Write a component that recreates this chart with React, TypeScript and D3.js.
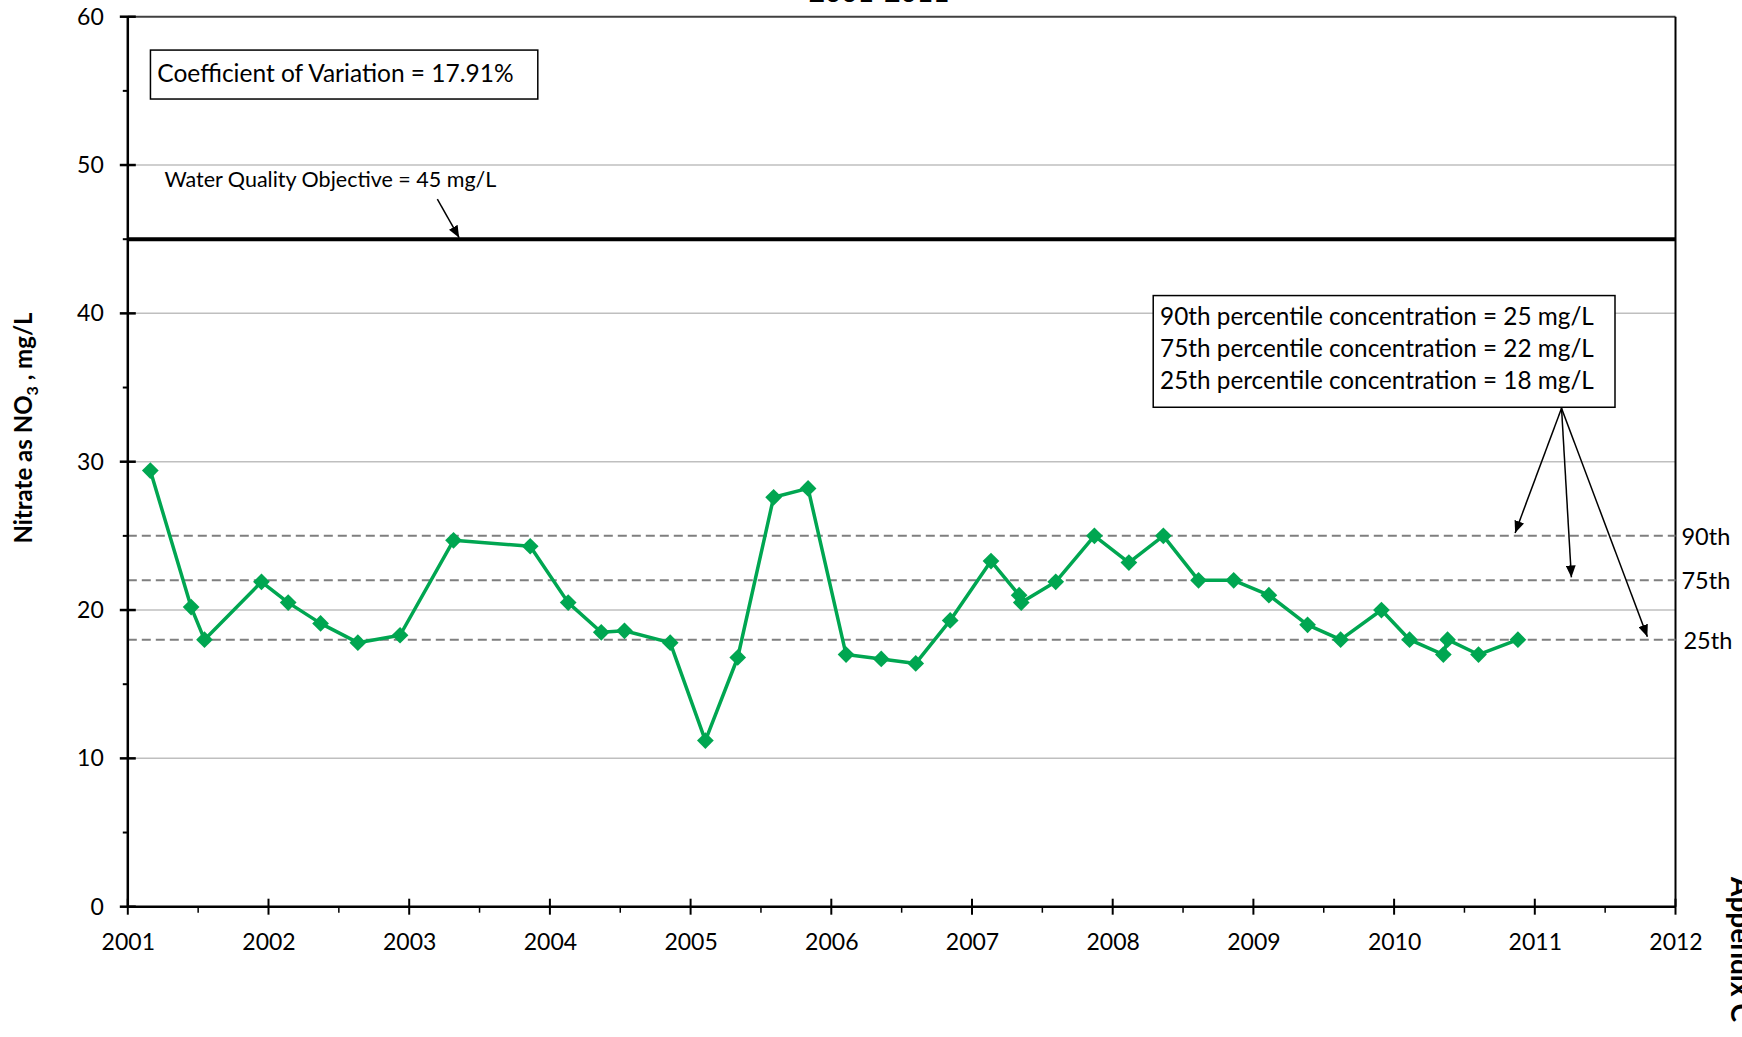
import React, { useEffect, useRef } from 'react';
import * as d3 from 'd3';

// sample dates (decimal years) and nitrate values
const sampleYears = [
  2001.16, 2001.45, 2001.545, 2001.95, 2002.14, 2002.37, 2002.635, 2002.935,
  2003.315, 2003.86, 2004.13, 2004.365, 2004.53, 2004.855, 2005.105, 2005.335,
  2005.59, 2005.835, 2006.105, 2006.355, 2006.6, 2006.845, 2007.135, 2007.335,
  2007.35, 2007.595, 2007.87, 2008.115, 2008.36, 2008.61, 2008.86, 2009.11,
  2009.385, 2009.62, 2009.91, 2010.11, 2010.35, 2010.38, 2010.6, 2010.88,
];
const nitrate = [
  29.4, 20.2, 18.0, 21.9, 20.5, 19.1, 17.8, 18.3,
  24.7, 24.3, 20.5, 18.5, 18.6, 17.8, 11.2, 16.8,
  27.6, 28.2, 17.0, 16.7, 16.4, 19.3, 23.3, 21.0,
  20.5, 21.9, 25.0, 23.2, 25.0, 22.0, 22.0, 21.0,
  19.0, 18.0, 20.0, 18.0, 17.0, 18.0, 17.0, 18.0,
];

const yTicks = [0, 10, 20, 30, 40, 50, 60];
const xTicks = d3.range(2001, 2013);
const percentileLevels = [25, 22, 18];
const percentileNames = ['90th', '75th', '25th'];
const percentileText = [
  '90th percentile concentration = 25 mg/L',
  '75th percentile concentration = 22 mg/L',
  '25th percentile concentration = 18 mg/L',
];
// where each percentile arrow ends (year, value)
const percentileArrowX = [2010.86, 2011.26, 2011.8];
const objective = 45;
const cvText = 'Coefficient of Variation = 17.91%';
const objectiveText = 'Water Quality Objective = 45 mg/L';

const FONT = 'Lato, "Open Sans", sans-serif';
const GREEN = '#00a651';

export default function App() {
  const svgRef = useRef<SVGSVGElement>(null);

  useEffect(() => {
    document.body.style.margin = '0';
    if (!svgRef.current) return;
    const svg = d3.select(svgRef.current);
    svg.selectAll('*').remove();

    const W = 1742;
    const H = 1037;
    const margin = { top: 16.7, right: 66.5, bottom: 130.3, left: 127.8 };
    const width = W - margin.left - margin.right;
    const height = H - margin.top - margin.bottom;

    const x = d3.scaleLinear().domain([2001, 2012]).range([0, width]);
    const y = d3.scaleLinear().domain([0, 60]).range([height, 0]);

    const defs = svg.append('defs');
    defs.append('marker')
      .attr('id', 'arrow')
      .attr('viewBox', '0 0 12 10')
      .attr('refX', 12)
      .attr('refY', 5)
      .attr('markerWidth', 12)
      .attr('markerHeight', 10)
      .attr('markerUnits', 'userSpaceOnUse')
      .attr('orient', 'auto')
      .append('path')
      .attr('d', 'M0,0 L12,5 L0,10 Z')
      .attr('fill', '#000');

    // title, cut off at the top of the page
    svg.append('text')
      .attr('x', 879)
      .attr('y', 2)
      .attr('text-anchor', 'middle')
      .attr('font-family', FONT)
      .attr('font-weight', 'bold')
      .attr('font-size', 28)
      .text('2001-2011');

    const g = svg.append('g')
      .attr('transform', `translate(${margin.left},${margin.top})`);

    // horizontal gridlines
    g.selectAll('.grid')
      .data(yTicks.filter(t => t > 0 && t < 60))
      .join('line')
      .attr('x1', 0)
      .attr('x2', width)
      .attr('y1', d => y(d))
      .attr('y2', d => y(d))
      .attr('stroke', '#bfbfbf')
      .attr('stroke-width', 1.5);

    // top + right border
    g.append('line')
      .attr('x1', 0).attr('x2', width)
      .attr('y1', y(60)).attr('y2', y(60))
      .attr('stroke', '#404040')
      .attr('stroke-width', 2);
    g.append('line')
      .attr('x1', width).attr('x2', width)
      .attr('y1', y(60)).attr('y2', y(0))
      .attr('stroke', '#000')
      .attr('stroke-width', 2);

    // percentile dashed lines
    g.selectAll('.pct')
      .data(percentileLevels)
      .join('line')
      .attr('x1', 0)
      .attr('x2', width)
      .attr('y1', d => y(d))
      .attr('y2', d => y(d))
      .attr('stroke', '#7f7f7f')
      .attr('stroke-width', 2)
      .attr('stroke-dasharray', '9,5');

    g.selectAll('.pctLabel')
      .data(percentileLevels)
      .join('text')
      .attr('x', (d, i) => width + 6 + (i === 2 ? 2 : 0))
      .attr('y', d => y(d) + 9)
      .attr('font-family', FONT)
      .attr('font-size', 23.5)
      .text((d, i) => percentileNames[i]);

    // water quality objective
    g.append('line')
      .attr('x1', 0).attr('x2', width)
      .attr('y1', y(objective)).attr('y2', y(objective))
      .attr('stroke', '#000')
      .attr('stroke-width', 4);

    // y axis
    const yAxis = g.append('g')
      .call(d3.axisLeft(y).tickValues(yTicks).tickSize(0).tickPadding(24).tickFormat(d3.format('d')));
    yAxis.select('.domain').remove();
    yAxis.selectAll('text')
      .attr('font-family', FONT)
      .attr('font-size', 23)
      .attr('fill', '#000');
    g.selectAll('.ymajor')
      .data(yTicks)
      .join('line')
      .attr('x1', -8).attr('x2', 8)
      .attr('y1', d => y(d)).attr('y2', d => y(d))
      .attr('stroke', '#000').attr('stroke-width', 2.5);
    g.selectAll('.yminor')
      .data(d3.range(5, 60, 10))
      .join('line')
      .attr('x1', -5).attr('x2', 0)
      .attr('y1', d => y(d)).attr('y2', d => y(d))
      .attr('stroke', '#000').attr('stroke-width', 2);
    g.append('line')
      .attr('x1', 0).attr('x2', 0)
      .attr('y1', y(60)).attr('y2', y(0))
      .attr('stroke', '#000').attr('stroke-width', 2.5);

    // x axis
    const xAxis = g.append('g')
      .attr('transform', `translate(0,${height})`)
      .call(d3.axisBottom(x).tickValues(xTicks).tickSize(0).tickPadding(27).tickFormat(d3.format('d')));
    xAxis.select('.domain').remove();
    xAxis.selectAll('text')
      .attr('font-family', FONT)
      .attr('font-size', 23)
      .attr('fill', '#000');
    g.selectAll('.xmajor')
      .data(xTicks)
      .join('line')
      .attr('x1', d => x(d)).attr('x2', d => x(d))
      .attr('y1', height - 8).attr('y2', height + 8)
      .attr('stroke', '#000').attr('stroke-width', 2);
    g.selectAll('.xminor')
      .data(xTicks.slice(0, -1).map(d => d + 0.5))
      .join('line')
      .attr('x1', d => x(d)).attr('x2', d => x(d))
      .attr('y1', height).attr('y2', height + 6)
      .attr('stroke', '#000').attr('stroke-width', 1.5);
    g.append('line')
      .attr('x1', 0).attr('x2', width)
      .attr('y1', height).attr('y2', height)
      .attr('stroke', '#000').attr('stroke-width', 2.5);

    // y label
    const yLabel = svg.append('text')
      .attr('transform', `translate(32,428) rotate(-90)`)
      .attr('text-anchor', 'middle')
      .attr('font-family', FONT)
      .attr('font-weight', 'bold')
      .attr('font-size', 24);
    yLabel.append('tspan').text('Nitrate as NO');
    yLabel.append('tspan').attr('font-size', 16).attr('dy', 6).text('3');
    yLabel.append('tspan').attr('dy', -6).text(' , mg/L');

    // data line
    const data = sampleYears.map((t, i) => ({ t, v: nitrate[i] }));
    const line = d3.line<{ t: number; v: number }>()
      .x(d => x(d.t))
      .y(d => y(d.v));
    g.append('path')
      .datum(data)
      .attr('fill', 'none')
      .attr('stroke', GREEN)
      .attr('stroke-width', 3.5)
      .attr('stroke-linejoin', 'round')
      .attr('d', line);
    const diamond = d3.symbol().type(d3.symbolSquare).size(140);
    g.selectAll('.pt')
      .data(data)
      .join('path')
      .attr('transform', d => `translate(${x(d.t)},${y(d.v)}) rotate(45)`)
      .attr('d', diamond)
      .attr('fill', GREEN);

    // coefficient of variation box
    g.append('rect')
      .attr('x', x(2001.161)).attr('y', y(57.75))
      .attr('width', x(2003.914) - x(2001.161))
      .attr('height', y(54.45) - y(57.75))
      .attr('fill', '#fff').attr('stroke', '#000').attr('stroke-width', 1.5);
    g.append('text')
      .attr('x', x(2001.21)).attr('y', y(55.62))
      .attr('font-family', FONT)
      .attr('font-size', 24.5)
      .text(cvText);

    // objective annotation
    g.append('text')
      .attr('x', x(2001.26)).attr('y', y(48.55))
      .attr('font-family', FONT)
      .attr('font-size', 21.5)
      .text(objectiveText);
    g.append('line')
      .attr('x1', x(2003.2)).attr('y1', y(47.7))
      .attr('x2', x(2003.355)).attr('y2', y(45.1))
      .attr('stroke', '#000').attr('stroke-width', 1.5)
      .attr('marker-end', 'url(#arrow)');

    // percentile box
    g.append('rect')
      .attr('x', x(2008.288)).attr('y', y(41.2))
      .attr('width', x(2011.57) - x(2008.288))
      .attr('height', y(33.67) - y(41.2))
      .attr('fill', '#fff').attr('stroke', '#000').attr('stroke-width', 1.5);
    g.selectAll('.pctText')
      .data(percentileText)
      .join('text')
      .attr('x', x(2008.337))
      .attr('y', (d, i) => y(39.2 - i * 2.16))
      .attr('font-family', FONT)
      .attr('font-size', 24.3)
      .text(d => d);
    g.selectAll('.pctArrow')
      .data(percentileLevels)
      .join('line')
      .attr('x1', x(2011.19)).attr('y1', y(33.6))
      .attr('x2', (d, i) => x(percentileArrowX[i]))
      .attr('y2', d => y(d + 0.2))
      .attr('stroke', '#000').attr('stroke-width', 1.5)
      .attr('marker-end', 'url(#arrow)');

    // page note on right edge
    svg.append('text')
      .attr('transform', 'translate(1731,877) rotate(90)')
      .attr('font-family', FONT)
      .attr('font-weight', 'bold')
      .attr('font-size', 28)
      .text('Appendix C');
  }, []);

  return (
    <svg ref={svgRef} width={1742} height={1037} style={{ display: 'block', background: '#fff' }} />
  );
}
